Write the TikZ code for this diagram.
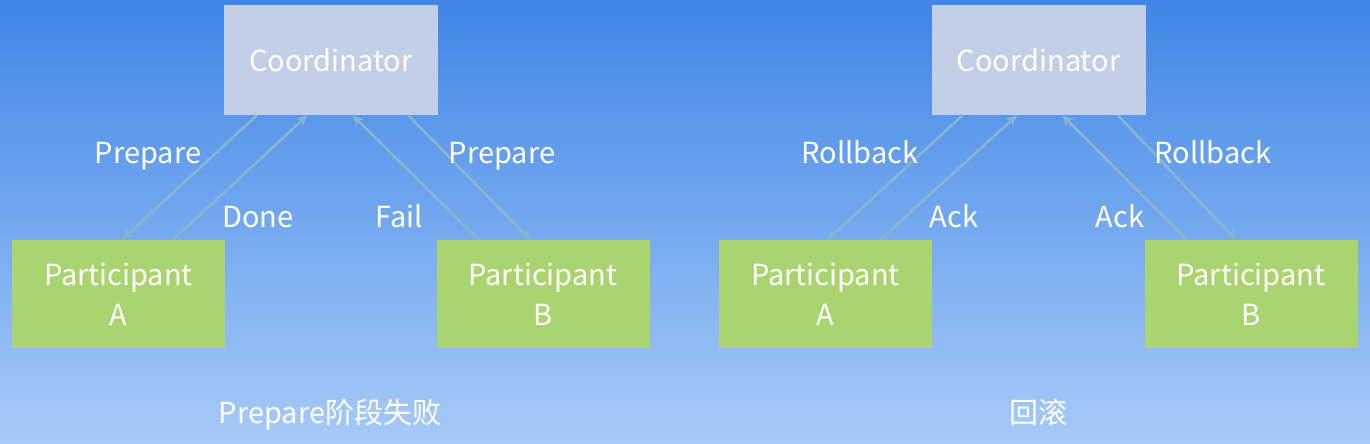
\documentclass[tikz,border=0pt]{standalone}
\usepackage{fontspec}
\setmainfont{Noto Sans CJK SC}
\usepackage{tikz}
\usetikzlibrary{arrows.meta,calc}
\definecolor{bgTop}{HTML}{3F86E6}
\definecolor{bgBottom}{HTML}{A8CAF8}
\definecolor{tcBox}{HTML}{C3CFE7}
\definecolor{tcGreen}{HTML}{A9D46F}
\definecolor{tcLine}{HTML}{88B3D2}

\tikzset{
  coordbox/.style={fill=tcBox, minimum width=214pt, minimum height=110pt,
    inner sep=0pt, font=\fontsize{29}{34}\selectfont, text=white},
  partbox/.style={fill=tcGreen, minimum width=213pt, minimum height=108pt,
    inner sep=0pt, align=center, font=\fontsize{29}{40}\selectfont, text=white},
  msg/.style={draw=tcLine, line width=2.6pt, -{Stealth[length=11pt,width=10pt]}},
  msglabel/.style={anchor=base, font=\fontsize{29}{34}\selectfont, text=white},
  caption/.style={anchor=base, font=\fontsize{29}{34}\selectfont, text=white},
}

\begin{document}
\begin{tikzpicture}[x=1pt,y=-1pt]
  \shade[top color=bgTop, bottom color=bgBottom] (0,0) rectangle (1370,444);
  \useasboundingbox (0,0) rectangle (1370,444);

  % Prepare phase fails
  \node[coordbox] (coordL) at (331,60) {Coordinator};
  \node[partbox] (partLA) at (118.5,294) {Participant\\A};
  \node[partbox] (partLB) at (543,294) {Participant\\B};

  \draw[msg] ($(coordL.south west)!0.154!(coordL.south east)$) -- ($(partLA.north west)!0.516!(partLA.north east)$);
  \draw[msg] ($(partLA.north west)!0.756!(partLA.north east)$) -- ($(coordL.south west)!0.39!(coordL.south east)$);
  \draw[msg] ($(partLB.north west)!0.2!(partLB.north east)$) -- ($(coordL.south west)!0.6!(coordL.south east)$);
  \draw[msg] ($(coordL.south west)!0.86!(coordL.south east)$) -- ($(partLB.north west)!0.44!(partLB.north east)$);

  \node[msglabel] (lblPrepA) at (148,163) {Prepare};
  \node[msglabel] (lblDone) at (258,227) {Done};
  \node[msglabel] (lblFail) at (399,227) {Fail};
  \node[msglabel] (lblPrepB) at (502,163) {Prepare};
  \node[caption] (capL) at (330,423) {Prepare阶段失败};

  % Rollback
  \node[coordbox] (coordR) at (1038.5,60) {Coordinator};
  \node[partbox] (partRA) at (825.5,294) {Participant\\A};
  \node[partbox] (partRB) at (1251,294) {Participant\\B};

  \draw[msg] ($(coordR.south west)!0.146!(coordR.south east)$) -- ($(partRA.north west)!0.51!(partRA.north east)$);
  \draw[msg] ($(partRA.north west)!0.756!(partRA.north east)$) -- ($(coordR.south west)!0.4!(coordR.south east)$);
  \draw[msg] ($(partRB.north west)!0.2!(partRB.north east)$) -- ($(coordR.south west)!0.61!(coordR.south east)$);
  \draw[msg] ($(coordR.south west)!0.87!(coordR.south east)$) -- ($(partRB.north west)!0.43!(partRB.north east)$);

  \node[msglabel] (lblRbA) at (860,163) {Rollback};
  \node[msglabel] (lblAckA) at (954,227) {Ack};
  \node[msglabel] (lblAckB) at (1120,227) {Ack};
  \node[msglabel] (lblRbB) at (1213,163) {Rollback};
  \node[caption] (capR) at (1038,423) {回滚};
\end{tikzpicture}
\end{document}
